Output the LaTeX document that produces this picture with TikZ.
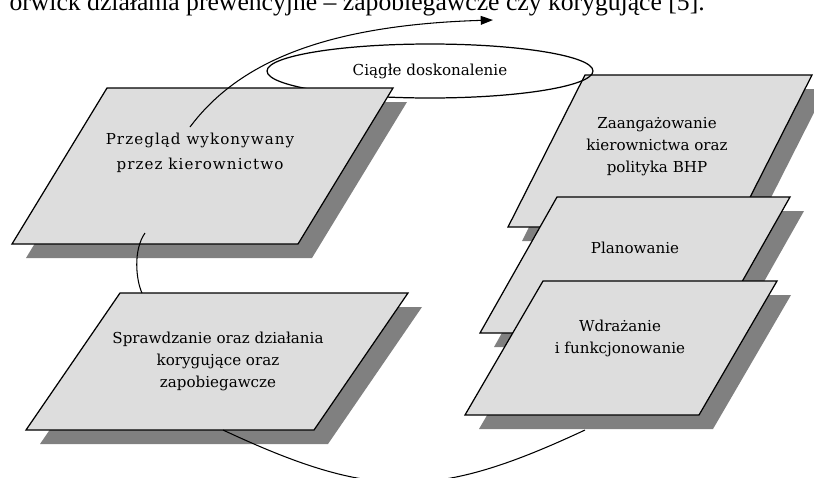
\documentclass[tikz,border=0pt]{standalone}
\usepackage{fontspec}
\setmainfont{Liberation Serif}
\newfontfamily\boxfont{DejaVu Serif}
\usetikzlibrary{arrows.meta,shapes.geometric}
\definecolor{planegray}{RGB}{221,221,221}
\definecolor{shadegray}{RGB}{128,128,128}

\begin{document}
\begin{tikzpicture}[x=0.02cm, y=-0.02cm,
  plane/.style={fill=planegray, draw=black, line width=0.7pt},
  shade/.style={fill=shadegray},
  lbl/.style={align=center, inner sep=1pt, font=\boxfont\fontsize{8.6}{12.5}\selectfont},
  link/.style={line width=0.6pt}]
\useasboundingbox (0,0) rectangle (814,477);
\clip (0,0) rectangle (814,477);
% tekst nad rysunkiem (uciety)
\node[anchor=base east, inner sep=0pt, font=\fontsize{14.6}{17}\selectfont] (tekst) at (705,10)
  {orwick działania prewencyjne -- zapobiegawcze czy korygujące [5].};
% prawa kolumna
\foreach \x/\y/\w/\h/\s in {585/75/227/152/77, 557/197/233/136/77, 543/281/234/134/78}{
  \fill[shade] (\x+14,\y+14) -- ++(\w,0) -- ++(-\s,\h) -- ++(-\w,0) -- cycle;
  \draw[plane] (\x,\y) -- ++(\w,0) -- ++(-\s,\h) -- ++(-\w,0) -- cycle;
}
\node[draw, ellipse, line width=0.7pt, minimum width=6.52cm, minimum height=1.08cm,
  inner sep=0pt, font=\boxfont\fontsize{8.6}{12.5}\selectfont] (ciagle) at (430,71) {Ciągłe doskonalenie};
% lewa kolumna
\foreach \x/\y/\w/\h/\s in {107/88/286/156/95, 120/293/288/137/94}{
  \fill[shade] (\x+14,\y+14) -- ++(\w,0) -- ++(-\s,\h) -- ++(-\w,0) -- cycle;
  \draw[plane] (\x,\y) -- ++(\w,0) -- ++(-\s,\h) -- ++(-\w,0) -- cycle;
}
% punkty zaczepienia
\coordinate (przeglad-top) at (190,127);
\coordinate (strzalka) at (493,20);
\coordinate (przeglad-bot) at (145,233);
\coordinate (sprawdz-top) at (142,293);
\coordinate (sprawdz-bot) at (223,430);
\coordinate (wdraz-bot) at (585,430);
\draw[link, -{Triangle[length=7pt,width=5pt]}] (przeglad-top) .. controls (240,60) and (330,25) .. (strzalka);
\draw[link] (przeglad-bot) .. controls (133,250) and (136,280) .. (sprawdz-top);
\draw[link] (sprawdz-bot) .. controls (373,500) and (435,500) .. (wdraz-bot);
% opisy
\node[lbl, font=\boxfont\addfontfeature{LetterSpace=7}\fontsize{8.6}{14.2}\selectfont] (przeglad) at (200,153) {Przegląd wykonywany\\przez kierownictwo};
\node[lbl] (sprawdz) at (218,361) {Sprawdzanie oraz działania\\korygujące oraz\\zapobiegawcze};
\node[lbl] (zaang) at (657,147) {Zaangażowanie\\kierownictwa oraz\\polityka BHP};
\node[lbl] (plan) at (635,248) {Planowanie};
\node[lbl] (wdraz) at (620,338) {Wdrażanie\\i funkcjonowanie};
\end{tikzpicture}
\end{document}
